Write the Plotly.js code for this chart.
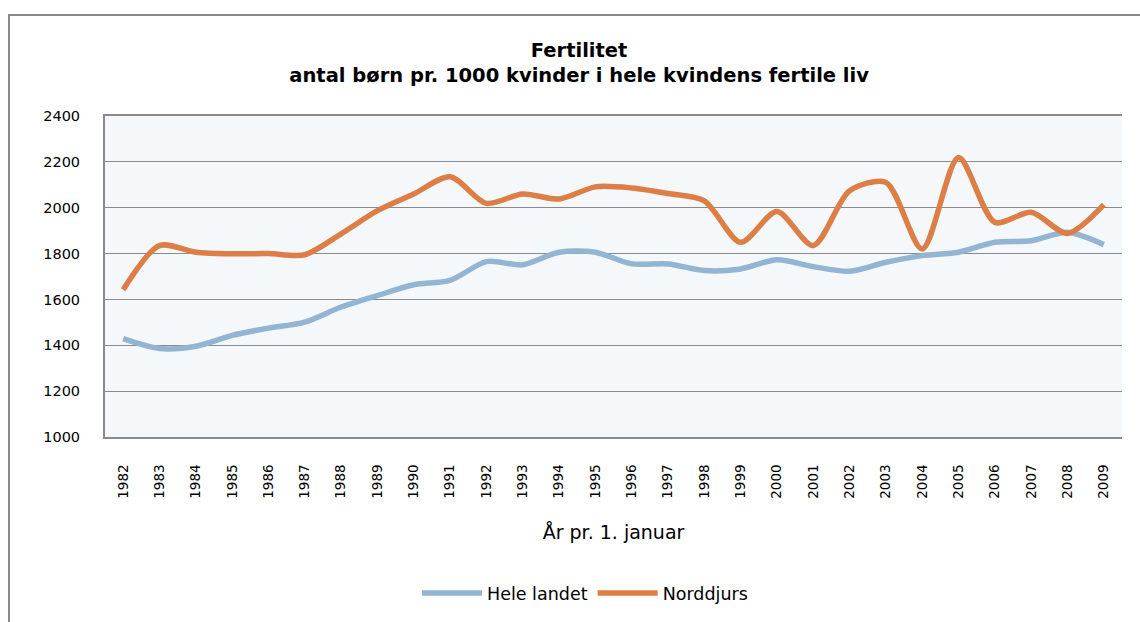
<!DOCTYPE html>
<html>
<head>
<meta charset="utf-8">
<script src="https://cdn.plot.ly/plotly-3.0.1.min.js"></script>
<style>
  html, body { margin: 0; padding: 0; background: #fff; }
  #wrap { position: relative; width: 1140px; height: 622px; overflow: hidden; }
  #chart { position: absolute; left: 0; top: 0; width: 1140px; height: 622px; }
  #frame { position: absolute; left: 8px; top: 14px; width: 1200px; height: 700px;
           border-left: 2px solid #8a8a8a; border-top: 2px solid #8a8a8a; pointer-events: none; }
</style>
</head>
<body>
<div id="wrap">
  <div id="chart"></div>
  <div id="frame"></div>
</div>
<script>
const years = ['1982','1983','1984','1985','1986','1987','1988','1989','1990','1991',
               '1992','1993','1994','1995','1996','1997','1998','1999','2000','2001',
               '2002','2003','2004','2005','2006','2007','2008','2009'];
const heleLandet = [1429,1386,1396,1443,1475,1501,1567,1617,1664,1683,
                    1765,1751,1806,1806,1755,1755,1726,1733,1773,1743,
                    1723,1762,1791,1806,1849,1856,1893,1839];
const norddjurs  = [1642,1835,1806,1799,1800,1795,1886,1987,2060,2135,
                    2019,2060,2038,2091,2086,2062,2030,1849,1983,1835,
                    2074,2110,1820,2219,1936,1980,1888,2013];
const yTicks = [1000,1200,1400,1600,1800,2000,2200,2400];
const seriesNames = ['Hele landet','Norddjurs'];

const FONT = 'DejaVu Sans, Liberation Sans, sans-serif';

const traces = [
  { x: years, y: heleLandet, name: seriesNames[0], type: 'scatter', mode: 'lines',
    line: { color: '#93b4d3', width: 5.5, shape: 'spline', smoothing: 0.8 } },
  { x: years, y: norddjurs, name: seriesNames[1], type: 'scatter', mode: 'lines',
    line: { color: '#dd7e46', width: 5.5, shape: 'spline', smoothing: 0.8 } }
];

const layout = {
  width: 1140, height: 622,
  margin: { l: 105, r: 18, t: 116, b: 185 },
  paper_bgcolor: 'rgba(0,0,0,0)',
  plot_bgcolor: '#f4f8fb',
  font: { family: FONT, color: '#000' },
  title: {
    text: '<b>Fertilitet</b><br><b>antal børn pr. 1000 kvinder i hele kvindens fertile liv</b>',
    font: { family: FONT, size: 19.5, color: '#000' },
    xref: 'container', x: 0.508, xanchor: 'center',
    yref: 'container', y: 1 - 57 / 622, yanchor: 'middle'
  },
  xaxis: {
    type: 'category',
    tickangle: -90,
    tickfont: { family: FONT, size: 13.5, color: '#000' },
    ticks: 'outside', ticklen: 20, tickcolor: 'rgba(0,0,0,0)',
    showgrid: false,
    showline: true, linecolor: '#8a8a8a', linewidth: 2, mirror: true,
    title: { text: 'År pr. 1. januar', font: { family: FONT, size: 19, color: '#000' }, standoff: 28 },
    range: [-0.5, 27.5],
    fixedrange: true
  },
  yaxis: {
    range: [1000, 2400],
    tickvals: yTicks,
    ticktext: yTicks.map(String),
    tickfont: { family: FONT, size: 14.5, color: '#000' },
    ticks: 'outside', ticklen: 20, tickcolor: 'rgba(0,0,0,0)',
    showgrid: true, gridcolor: '#8a8a8a', gridwidth: 1,
    showline: true, linecolor: '#8a8a8a', linewidth: 2,
    zeroline: false,
    fixedrange: true
  },
  showlegend: true,
  legend: {
    orientation: 'h',
    xref: 'container', x: 585 / 1140, xanchor: 'center',
    yref: 'container', y: 1 - 593 / 622, yanchor: 'middle',
    font: { family: FONT, size: 17.5, color: '#000' },
    itemwidth: 60,
    tracegroupgap: 20,
    bgcolor: 'rgba(0,0,0,0)'
  }
};

Plotly.newPlot('chart', traces, layout, { displayModeBar: false, staticPlot: true });
</script>
</body>
</html>
